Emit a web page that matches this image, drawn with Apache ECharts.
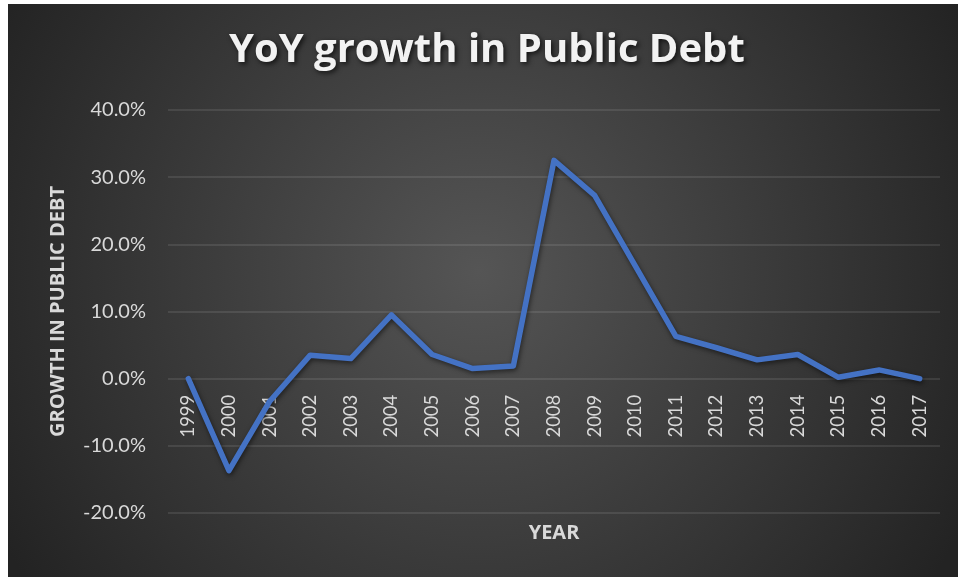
<!DOCTYPE html>
<html>
<head>
<meta charset="utf-8">
<title>YoY growth in Public Debt</title>
<script src="https://cdn.jsdelivr.net/npm/echarts@6/dist/echarts.min.js"></script>
<style>
  html, body { margin: 0; padding: 0; background: #ffffff; }
  #chart { width: 958px; height: 577px; }
</style>
</head>
<body>
<div id="chart"></div>
<script>
// Year-over-year growth of public debt, in percent
const years = ['1999', '2000', '2001', '2002', '2003', '2004', '2005', '2006', '2007', '2008',
               '2009', '2010', '2011', '2012', '2013', '2014', '2015', '2016', '2017'];
const growthPct = [0.0, -13.7, -3.4, 3.5, 3.0, 9.5, 3.6, 1.5, 1.9, 32.5,
                   27.3, 16.8, 6.3, 4.6, 2.8, 3.6, 0.2, 1.3, 0.0];
const yTicks = { min: -20, max: 40, step: 10 };

const labelColor = '#d9d9d9';
const gridColor = 'rgba(255,255,255,0.13)';
const gridBox = { left: 168, right: 18, top: 110, bottom: 64 };
const plotHeight = 577 - gridBox.top - gridBox.bottom;
// Lift the category axis from the bottom edge up to the 0% line
const zeroLift = plotHeight * (0 - yTicks.min) / (yTicks.max - yTicks.min);

const chart = echarts.init(document.getElementById('chart'), null, { renderer: 'canvas' });

chart.setOption({
  backgroundColor: {
    type: 'radial', x: 0.5, y: 0.47, r: 0.95,
    colorStops: [
      { offset: 0, color: '#555555' },
      { offset: 1, color: '#232323' }
    ]
  },
  graphic: [
    { type: 'rect', left: 0, top: 0, shape: { width: 8, height: 577 }, style: { fill: '#ffffff' }, silent: true },
    { type: 'rect', left: 0, top: 0, shape: { width: 958, height: 4 }, style: { fill: '#ffffff' }, silent: true }
  ],
  title: {
    text: 'YoY growth in Public Debt',
    left: 224,
    top: 26,
    textStyle: {
      fontFamily: 'Open Sans',
      fontWeight: 'bold',
      fontSize: 40,
      color: '#f2f2f2',
      textShadowColor: 'rgba(0,0,0,0.7)',
      textShadowBlur: 5,
      textShadowOffsetX: 2,
      textShadowOffsetY: 2
    }
  },
  grid: Object.assign({ containLabel: false, outerBoundsMode: 'none' }, gridBox),
  xAxis: {
    type: 'category',
    data: years,
    boundaryGap: true,
    offset: -zeroLift,
    name: 'YEAR',
    nameLocation: 'middle',
    nameGap: 145,
    nameTextStyle: { color: labelColor, fontFamily: 'Open Sans', fontWeight: 'bold', fontSize: 20 },
    axisLine: { show: false, onZero: false },
    axisTick: { show: false },
    axisLabel: { rotate: 90, margin: 16, color: labelColor, fontFamily: 'Lato', fontSize: 18.5 }
  },
  yAxis: {
    type: 'value',
    min: yTicks.min,
    max: yTicks.max,
    interval: yTicks.step,
    name: 'GROWTH IN PUBLIC DEBT',
    nameLocation: 'middle',
    nameRotate: 90,
    nameGap: 100,
    nameTextStyle: { color: labelColor, fontFamily: 'Open Sans', fontWeight: 'bold', fontSize: 20 },
    axisLine: { show: false },
    axisTick: { show: false },
    axisLabel: {
      margin: 22,
      color: labelColor,
      fontFamily: 'Lato',
      fontSize: 20,
      formatter: v => v.toFixed(1) + '%'
    },
    splitLine: { lineStyle: { color: gridColor, width: 1.5 } }
  },
  series: [{
    type: 'line',
    data: growthPct,
    z: 10,
    showSymbol: false,
    symbol: 'none',
    lineStyle: {
      color: '#4472c4',
      width: 5.5,
      cap: 'round',
      join: 'round',
      shadowColor: 'rgba(0,0,0,0.55)',
      shadowBlur: 5,
      shadowOffsetX: 1,
      shadowOffsetY: 2
    },
    animation: false
  }],
  animation: false
});
</script>
</body>
</html>
